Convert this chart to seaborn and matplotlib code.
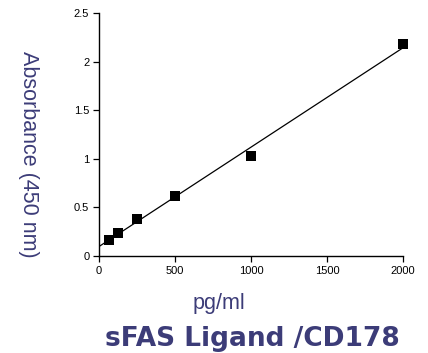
import numpy as np
import pandas as pd
import matplotlib
matplotlib.use('Agg')
import matplotlib.pyplot as plt
import seaborn as sns

# standard curve data
conc = [62.5, 125, 250, 500, 1000, 2000]
absorb = [0.16, 0.24, 0.38, 0.62, 1.03, 2.18]
x_ticks = [0, 500, 1000, 1500, 2000]
y_ticks = [0, 0.5, 1, 1.5, 2, 2.5]
y_tick_labels = ['0', '0.5', '1', '1.5', '2', '2.5']

df = pd.DataFrame({'conc': conc, 'abs': absorb})

sns.set_style('ticks')
plt.rcParams['font.family'] = ['Liberation Sans', 'DejaVu Sans']

navy = '#3c3c78'

fig = plt.figure(figsize=(4.28, 3.53), dpi=100)
ax = fig.add_axes([99 / 428, 1 - 256 / 353, 304 / 428, 243 / 353])
ax.set_xlim(0, 2000)
ax.set_ylim(0, 2.5)

sns.regplot(x='conc', y='abs', data=df, ax=ax, ci=None, truncate=False,
            marker='s',
            scatter_kws={'s': 60, 'color': 'black', 'alpha': 1, 'clip_on': False,
                         'zorder': 3, 'linewidths': 0},
            line_kws={'color': 'black', 'linewidth': 0.9})

ax.set_xlim(0, 2000)
ax.set_ylim(0, 2.5)
ax.set_xticks(x_ticks)
ax.set_yticks(y_ticks)
ax.set_yticklabels(y_tick_labels)
ax.tick_params(labelsize=8, length=4, width=0.9, colors='black', pad=3)
for s in ['left', 'bottom']:
    ax.spines[s].set_linewidth(1.0)
    ax.spines[s].set_color('black')
sns.despine(ax=ax)
ax.set_xlabel('')
ax.set_ylabel('')

fig.text(28 / 428, 1 - 154 / 353, 'Absorbance (450 nm)', rotation=270,
         ha='center', va='center', fontsize=15.5, color=navy)
fig.text(219 / 428, 1 - 303 / 353, 'pg/ml', ha='center', va='center',
         fontsize=15.5, color=navy)
fig.text(252 / 428, 1 - 339 / 353, 'sFAS Ligand /CD178', ha='center', va='center',
         fontsize=19, fontweight='bold', color=navy, family=['DejaVu Sans'])

fig.savefig('out.png', dpi=100)
